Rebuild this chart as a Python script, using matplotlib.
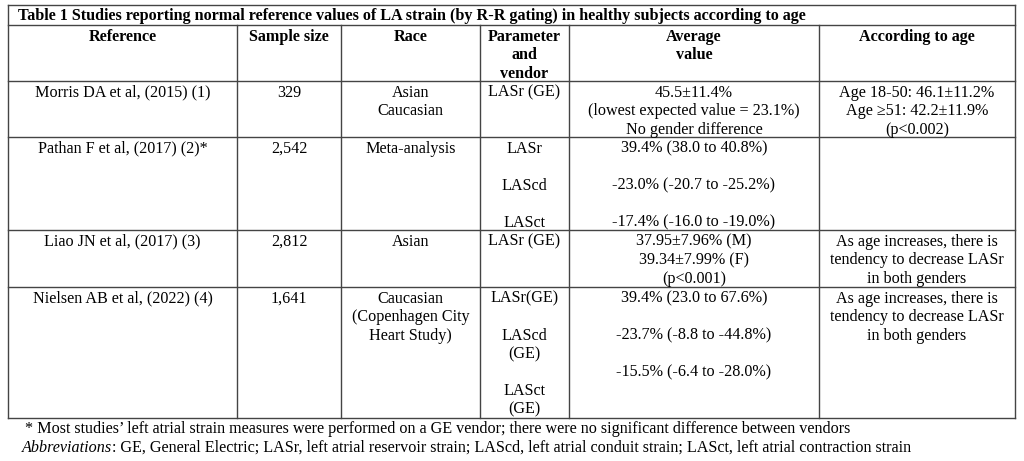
import matplotlib
matplotlib.use("Agg")
import matplotlib.pyplot as plt

# ---- table content ----
title = ("Table 1 Studies reporting normal reference values of LA strain "
         "(by R-R gating) in healthy subjects according to age")
headers = ["Reference", "Sample size", "Race", "Parameter\nand\nvendor",
           "Average\nvalue", "According to age"]
references = ["Morris DA et al, (2015) (1)", "Pathan F et al, (2017) (2)*",
              "Liao JN et al, (2017) (3)", "Nielsen AB et al, (2022) (4)"]
sample_sizes = ["329", "2,542", "2,812", "1,641"]
races = ["Asian\nCaucasian", "Meta-analysis", "Asian",
         "Caucasian\n(Copenhagen City\nHeart Study)"]
parameters = ["LASr (GE)", "LASr\n\nLAScd\n\nLASct", "LASr (GE)",
              "LASr(GE)\n\nLAScd\n(GE)\n\nLASct\n(GE)"]
average_values = [
    "45.5±11.4%\n(lowest expected value = 23.1%)\nNo gender difference",
    "39.4% (38.0 to 40.8%)\n\n-23.0% (-20.7 to -25.2%)\n\n-17.4% (-16.0 to -19.0%)",
    "37.95±7.96% (M)\n39.34±7.99% (F)\n(p<0.001)",
    "39.4% (23.0 to 67.6%)\n\n-23.7% (-8.8 to -44.8%)\n\n-15.5% (-6.4 to -28.0%)",
]
age_notes = [
    "Age 18-50: 46.1±11.2%\nAge ≥51: 42.2±11.9%\n(p<0.002)",
    "",
    "As age increases, there is\ntendency to decrease LASr\nin both genders",
    "As age increases, there is\ntendency to decrease LASr\nin both genders",
]
footnote = ("* Most studies’ left atrial strain measures were performed on a GE vendor; "
            "there were no significant difference between vendors")
abbr_label = "Abbreviations"
abbr_text = (": GE, General Electric; LASr, left atrial reservoir strain; "
             "LAScd, left atrial conduit strain; LASct, left atrial contraction strain")

# ---- layout (pixel coordinates) ----
W, H = 1024, 461
col_edges = [8, 237, 341, 480, 569, 819, 1015]
row_edges = [5, 25, 81, 137, 230, 287, 418]
line_h = 18.5
first_off = 11.8
FS = 11.6
FONT = "Liberation Serif"
LC = "#444444"

fig = plt.figure(figsize=(W / 100, H / 100), dpi=100)
ax = fig.add_axes([0, 0, 1, 1])
ax.set_xlim(0, W)
ax.set_ylim(H, 0)
ax.axis("off")

# grid lines
x0, x1 = col_edges[0], col_edges[-1]
for y in row_edges:
    ax.plot([x0, x1], [y, y], color=LC, lw=1.0, solid_capstyle="projecting")
ax.plot([x0, x0], [row_edges[0], row_edges[-1]], color=LC, lw=1.0)
ax.plot([x1, x1], [row_edges[0], row_edges[-1]], color=LC, lw=1.0)
for x in col_edges[1:-1]:
    ax.plot([x, x], [row_edges[1], row_edges[-1]], color=LC, lw=1.0)


def cell(text, ci, ri, bold=False):
    xc = (col_edges[ci] + col_edges[ci + 1]) / 2
    top = row_edges[ri]
    for k, line in enumerate(text.split("\n")):
        if line:
            ax.text(xc, top + first_off + k * line_h, line, ha="center",
                    va="center", fontsize=FS, family=FONT,
                    fontweight="bold" if bold else "normal", color="black")


# title
ax.text(18, (row_edges[0] + row_edges[1]) / 2 + 0.5, title, ha="left",
        va="center", fontsize=FS, family=FONT, fontweight="bold")

for ci, h in enumerate(headers):
    cell(h, ci, 1, bold=True)

columns = [references, sample_sizes, races, parameters, average_values, age_notes]
for ri in range(len(references)):
    for ci, col in enumerate(columns):
        cell(col[ri], ci, ri + 2)

# footnotes
ax.text(25, 428.5, footnote, ha="left", va="center", fontsize=FS, family=FONT)
t = ax.text(22, 447.5, abbr_label, ha="left", va="center", fontsize=FS,
            family=FONT, style="italic")
fig.canvas.draw()
bb = t.get_window_extent()
x_end = ax.transData.inverted().transform((bb.x1, bb.y0))[0]
ax.text(x_end, 447.5, abbr_text, ha="left", va="center", fontsize=FS, family=FONT)

fig.savefig("out.png", dpi=100, facecolor="white")
